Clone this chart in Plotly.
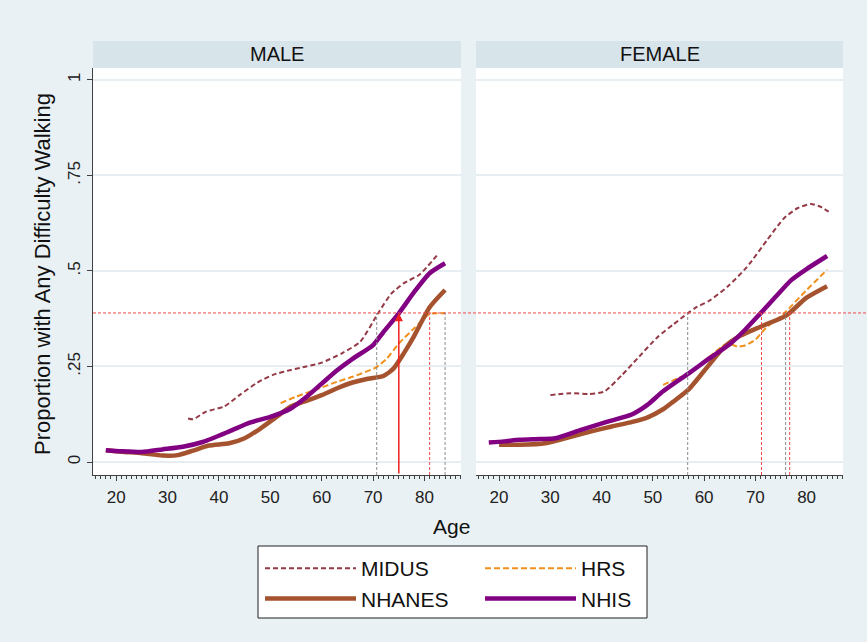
import plotly.graph_objects as go

W, H = 867, 642

# ---------------- data ----------------
panels = ["MALE", "FEMALE"]
series_names = ["MIDUS", "HRS", "NHANES", "NHIS"]

m_age_midus = [34, 35, 37.5, 41, 44, 47.5, 50.5, 54, 57, 60, 64, 67.5, 71, 73.5, 76, 79, 82.7]
m_midus = [0.114, 0.112, 0.132, 0.145, 0.175, 0.208, 0.228, 0.241, 0.25, 0.26, 0.285, 0.315, 0.39, 0.44, 0.468, 0.49, 0.545]

m_age_hrs = [52, 55, 59, 63, 66, 70.5, 72.7, 75, 78, 81, 84]
m_hrs = [0.154, 0.171, 0.19, 0.21, 0.223, 0.247, 0.271, 0.31, 0.35, 0.387, 0.389]

m_age_nhanes = [18, 21, 25, 29, 32, 35, 38, 42, 45, 48, 51, 54, 57, 60, 63, 66, 69, 72, 74, 76, 78, 81, 84]
m_nhanes = [0.031, 0.027, 0.023, 0.017, 0.018, 0.030, 0.043, 0.049, 0.062, 0.087, 0.116, 0.145, 0.160,
            0.175, 0.193, 0.208, 0.218, 0.225, 0.245, 0.285, 0.33, 0.405, 0.45]

m_age_nhis = [18, 21, 25, 29, 33, 37, 42, 46, 50, 54, 57, 60, 63, 66, 70, 72, 75, 78, 81, 84]
m_nhis = [0.031, 0.028, 0.026, 0.033, 0.040, 0.053, 0.080, 0.103, 0.118, 0.140, 0.170, 0.205, 0.240,
          0.270, 0.306, 0.340, 0.389, 0.445, 0.494, 0.520]

f_age_midus = [30, 34, 37.5, 40.5, 44, 47, 51, 54, 56.8, 58.5, 61, 64.6, 68.4, 72.3, 75.6, 78.2, 80.8, 82.7, 84.3]
f_midus = [0.175, 0.18, 0.178, 0.184, 0.228, 0.271, 0.328, 0.36, 0.389, 0.405, 0.422, 0.459, 0.511,
           0.581, 0.638, 0.664, 0.675, 0.668, 0.655]

f_age_hrs = [52, 55, 57, 61, 64.5, 66.5, 68, 70, 72, 75.6, 80, 84]
f_hrs = [0.202, 0.22, 0.232, 0.275, 0.31, 0.302, 0.305, 0.32, 0.35, 0.389, 0.45, 0.503]

f_age_nhanes = [20, 24, 29, 34, 38, 42, 46, 49, 52, 54, 57, 60, 64, 67, 71, 76, 80, 84]
f_nhanes = [0.045, 0.045, 0.049, 0.066, 0.080, 0.093, 0.105, 0.117, 0.138, 0.158, 0.19, 0.238, 0.302,
            0.330, 0.354, 0.383, 0.430, 0.460]

f_age_nhis = [18, 21, 24, 28, 31, 36, 41, 46, 49, 52, 57, 61, 65, 68, 71, 74, 77, 80, 84]
f_nhis = [0.051, 0.054, 0.058, 0.060, 0.062, 0.084, 0.105, 0.125, 0.150, 0.185, 0.232, 0.271, 0.308,
          0.346, 0.389, 0.433, 0.476, 0.505, 0.539]

# reference threshold and crossing ages
ref_level = 0.39
m_gray_ages = [70.7, 84]
m_red_ages = [81]
m_arrow_age = 75
f_gray_ages = [56.8, 75.9]
f_red_ages = [71.2, 76.7]

x_ticks = [20, 30, 40, 50, 60, 70, 80]
y_ticks = [0, 0.25, 0.5, 0.75, 1]
y_tick_text = ["0", ".25", ".5", ".75", "1"]

# ---------------- styles ----------------
FONT = "Liberation Sans, Arial, sans-serif"
BG = "#eaf1f4"
STRIP = "#d7e4ea"
GRID = "#e6eef1"
AXIS = "#404040"
colors = {"MIDUS": "#943a46", "HRS": "#f0901e", "NHANES": "#a5532e", "NHIS": "#820082"}
dashes = {"MIDUS": "5px,3px", "HRS": "6px,3px", "NHANES": "solid", "NHIS": "solid"}
widths = {"MIDUS": 2, "HRS": 2, "NHANES": 4.5, "NHIS": 4.5}
legend_of = {"MIDUS": "legend", "NHANES": "legend", "HRS": "legend2", "NHIS": "legend2"}

XR = [15.5, 87.1]
YR = [-0.034, 1.031]

def px_x(p):
    return p / W

def px_y(p):
    return 1 - p / H

male_dom = [px_x(93), px_x(461)]
fem_dom = [px_x(476), px_x(843)]
y_dom = [px_y(475), px_y(68)]

fig = go.Figure()

data = {
    "MALE": {"MIDUS": (m_age_midus, m_midus), "HRS": (m_age_hrs, m_hrs),
             "NHANES": (m_age_nhanes, m_nhanes), "NHIS": (m_age_nhis, m_nhis)},
    "FEMALE": {"MIDUS": (f_age_midus, f_midus), "HRS": (f_age_hrs, f_hrs),
               "NHANES": (f_age_nhanes, f_nhanes), "NHIS": (f_age_nhis, f_nhis)},
}
axes = {"MALE": ("x", "y"), "FEMALE": ("x2", "y2")}

for panel in panels:
    xa, ya = axes[panel]
    for name in series_names:
        ages, vals = data[panel][name]
        fig.add_trace(go.Scatter(
            x=ages, y=vals, mode="lines", name=name,
            line=dict(color=colors[name], width=widths[name], dash=dashes[name], shape="spline", smoothing=0.6),
            xaxis=xa, yaxis=ya, showlegend=(panel == "MALE"), legend=legend_of[name],
        ))

shapes = []
# horizontal threshold line spanning both panels
shapes.append(dict(type="line", xref="paper", yref="y", x0=px_x(93), x1=1.0, y0=ref_level, y1=ref_level,
                   line=dict(color="#f04848", width=1, dash="3px,2px"), layer="above"))

def vlines(ages, xref, yref, color):
    for a in ages:
        shapes.append(dict(type="line", xref=xref, yref=yref, x0=a, x1=a, y0=YR[0], y1=ref_level,
                           line=dict(color=color, width=1, dash="3px,2px"), layer="above"))

vlines(m_gray_ages, "x", "y", "#8c8c8c")
vlines(m_red_ages, "x", "y", "#f04848")
vlines(f_gray_ages, "x2", "y2", "#8c8c8c")
vlines(f_red_ages, "x2", "y2", "#f04848")

# strips
for dom in (male_dom, fem_dom):
    shapes.append(dict(type="rect", xref="paper", yref="paper", x0=dom[0], x1=dom[1],
                       y0=px_y(68), y1=px_y(41), fillcolor=STRIP, line=dict(width=0), layer="above"))

# legend box
shapes.append(dict(type="rect", xref="paper", yref="paper", x0=px_x(258), x1=px_x(647),
                   y0=px_y(618), y1=px_y(546), fillcolor="white", line=dict(color="#202020", width=1),
                   layer="above"))

annotations = [
    dict(x=(male_dom[0] + male_dom[1]) / 2, y=px_y(54.5), xref="paper", yref="paper", text="MALE",
         xanchor="center", yanchor="middle", showarrow=False, font=dict(family=FONT, size=20, color="#111")),
    dict(x=(fem_dom[0] + fem_dom[1]) / 2, y=px_y(54.5), xref="paper", yref="paper", text="FEMALE",
         xanchor="center", yanchor="middle", showarrow=False, font=dict(family=FONT, size=20, color="#111")),
    dict(x=px_x(452), y=px_y(526), xref="paper", yref="paper", text="Age", showarrow=False,
         xanchor="center", yanchor="middle", font=dict(family=FONT, size=21, color="#111")),
    dict(x=px_x(43), y=px_y(274), xref="paper", yref="paper", text="Proportion with Any Difficulty Walking",
         xanchor="center", yanchor="middle", showarrow=False, textangle=-90,
         font=dict(family=FONT, size=22, color="#111")),
    # red arrow at male crossing
    dict(x=m_arrow_age, y=ref_level, xref="x", yref="y", ax=m_arrow_age, ay=YR[0], axref="x", ayref="y",
         text="", showarrow=True, arrowhead=2, arrowsize=1.1, arrowwidth=1.5, arrowcolor="#f02020"),
]

xaxis_common = dict(range=XR, tickvals=x_ticks, ticks="outside", ticklen=5, tickwidth=1, tickcolor=AXIS,
                    showline=True, linecolor=AXIS, linewidth=1, showgrid=False, zeroline=False,
                    ticklabelstandoff=2,
                    tickfont=dict(family=FONT, size=17, color="#222"),
                    minor=dict(dtick=1, tick0=0, ticks="outside", ticklen=3, tickcolor=AXIS, showgrid=False))
yaxis_common = dict(range=YR, tickvals=y_ticks, showgrid=True, gridcolor=GRID, gridwidth=1.5, zeroline=False,
                    domain=y_dom)

legend_style = dict(xanchor="left", yanchor="top", bgcolor="rgba(0,0,0,0)",
                    font=dict(family=FONT, size=21, color="#111"), itemwidth=91, tracegroupgap=0,
                    traceorder="normal")

fig.update_layout(
    width=W, height=H,
    margin=dict(l=0, r=0, t=0, b=0, autoexpand=False),
    paper_bgcolor=BG, plot_bgcolor="white",
    font=dict(family=FONT, color="#111"),
    xaxis=dict(domain=male_dom, anchor="y", **xaxis_common),
    xaxis2=dict(domain=fem_dom, anchor="y2", **xaxis_common),
    yaxis=dict(anchor="x", ticktext=y_tick_text, ticks="outside", ticklen=5, tickcolor=AXIS,
               showline=True, linecolor=AXIS, linewidth=1, tickangle=-90,
               tickfont=dict(family=FONT, size=17, color="#222"), **yaxis_common),
    yaxis2=dict(anchor="x2", matches="y", showticklabels=False, ticks="", showline=False, **yaxis_common),
    shapes=shapes,
    annotations=annotations,
    legend=dict(x=px_x(260), y=px_y(548), **legend_style),
    legend2=dict(x=px_x(480), y=px_y(548), **legend_style),
)

fig.write_html("out.html", config={"displayModeBar": False},
               post_script="document.body.style.margin='0';document.body.style.background='%s';" % BG)
